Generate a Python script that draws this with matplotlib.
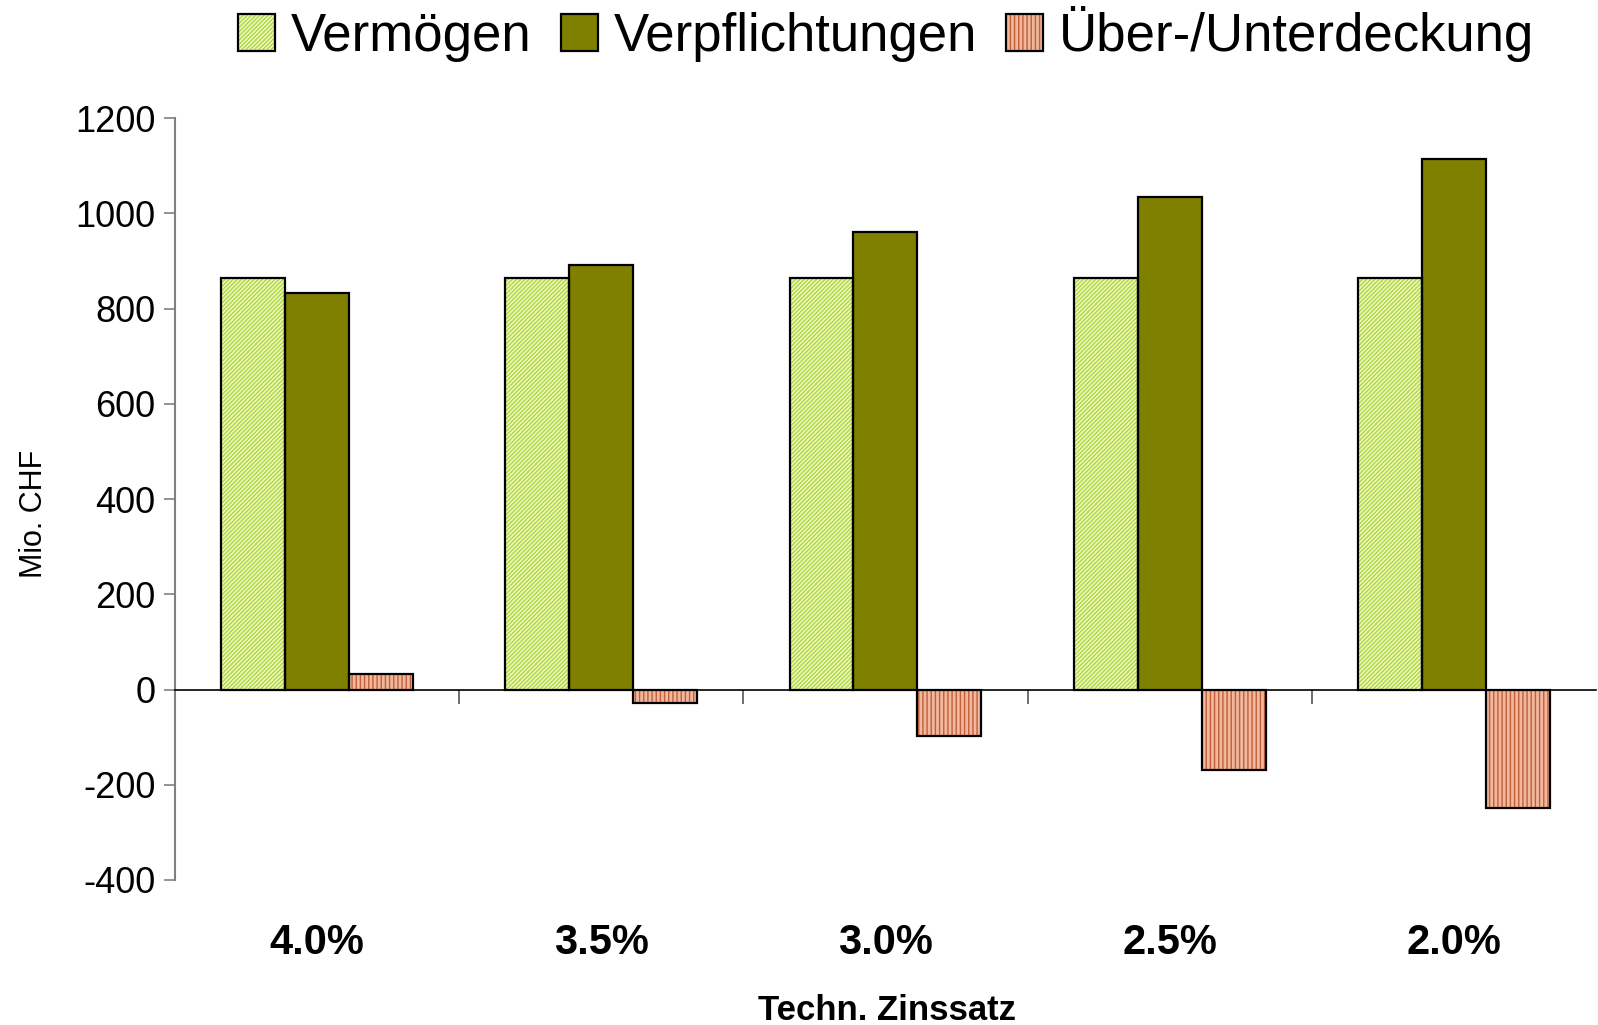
import numpy as np
import matplotlib
matplotlib.use('Agg')
import matplotlib.pyplot as plt
import matplotlib.transforms as mtransforms

plt.rcParams['font.family'] = ['Liberation Sans', 'DejaVu Sans']
plt.rcParams['hatch.linewidth'] = 1.0
plt.rcParams['axes.unicode_minus'] = False

# === Data
categories = ['4.0%', '3.5%', '3.0%', '2.5%', '2.0%']
vermoegen = [864, 864, 864, 864, 864]
verpflichtungen = [832, 892, 962, 1035, 1114]
deckung = [33, -28, -97, -170, -248]
series_names = ['Vermögen', 'Verpflichtungen', 'Über-/Unterdeckung']
yticks = [-400, -200, 0, 200, 400, 600, 800, 1000, 1200]

# colours / hatches per series: (face, hatch colour, hatch)
styles = [('#eef8c4', '#b0d840', '////////'),
          ('#808000', '#808000', None),
          ('#f2b89e', '#c0603a', '||||')]

fig = plt.figure(figsize=(15.98, 10.25), dpi=100)
ax = fig.add_axes([0.1095, 0.1415, 0.8892, 0.7431])

x = np.arange(len(categories))
w = 0.225
handles = []
for i, (vals, (face, hcol, hatch)) in enumerate(zip([vermoegen, verpflichtungen, deckung], styles)):
    pos = x + (i - 1) * w
    ax.bar(pos, vals, w, color=face, edgecolor=hcol, hatch=hatch, linewidth=0, zorder=2)
    ax.bar(pos, vals, w, fill=False, edgecolor='black', linewidth=1.6, zorder=3)
    h1 = plt.Rectangle((0, 0), 1, 1, facecolor=face, edgecolor=hcol, hatch=hatch, linewidth=0)
    h2 = plt.Rectangle((0, 0), 1, 1, fill=False, edgecolor='black', linewidth=1.6)
    handles.append((h1, h2))

ax.set_xlim(-0.5, len(categories) - 0.5)
ax.set_ylim(-400, 1200)
ax.set_yticks(yticks)
ax.tick_params(axis='y', labelsize=26, length=8, width=1.2, color='#808080', direction='out', pad=6)

for s in ['top', 'right']:
    ax.spines[s].set_visible(False)
ax.spines['left'].set_color('#808080')
ax.spines['left'].set_linewidth(1.5)
ax.spines['bottom'].set_position(('data', 0))
ax.spines['bottom'].set_linewidth(1.2)

ax.set_xticks(x)
ax.set_xticklabels([])
ax.tick_params(axis='x', which='major', length=0)
ax.set_xticks(np.arange(len(categories)) - 0.5, minor=True)
ax.tick_params(axis='x', which='minor', length=10, width=1.2, direction='out', color='#555555')

trans = mtransforms.blended_transform_factory(ax.transData, ax.transAxes)
for xi, lab in zip(x, categories):
    ax.text(xi, -0.0827, lab, transform=trans, ha='center', va='center',
            fontsize=30, fontweight='bold')

ax.set_ylabel('Mio. CHF', fontsize=22)
ax.yaxis.set_label_coords(-0.089, 0.48)

fig.text(887 / 1598, 5 / 1025, 'Techn. Zinssatz', ha='center', va='baseline',
         fontsize=25, fontweight='bold')

fig.legend(handles, series_names, loc='center', bbox_to_anchor=(886 / 1598, 1 - 34 / 1025),
           ncol=3, frameon=False, fontsize=38, handlelength=0.7, handleheight=0.7,
           handletextpad=0.3, columnspacing=0.55, borderpad=0)

fig.savefig('out.png', dpi=100)
